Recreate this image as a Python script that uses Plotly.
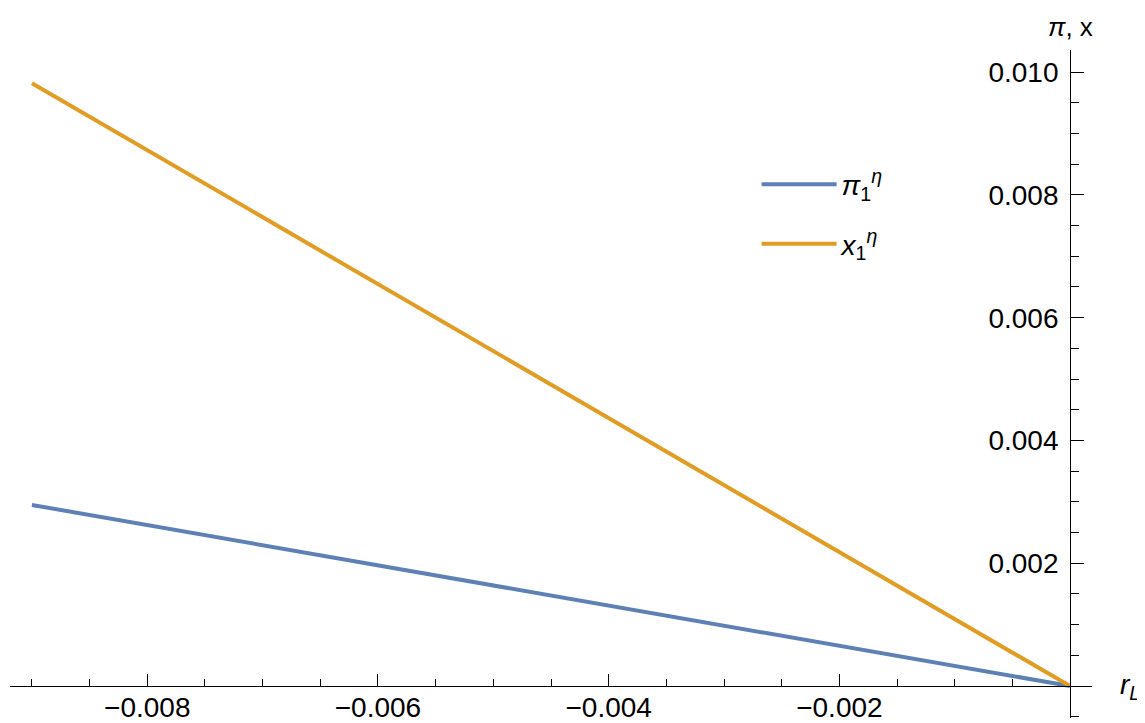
import plotly.graph_objects as go

# Data
r_L = [-0.009, 0.0]
pi_1 = [0.00295, 0.0]
x_1 = [0.00982, 0.0]

x_ticks = [-0.008, -0.006, -0.004, -0.002]
y_ticks = [0.002, 0.004, 0.006, 0.008, 0.010]

BLUE = "#5E81B5"
ORANGE = "#E19C24"
FONT = "Liberation Sans, Arial, sans-serif"

xr = [-0.00919, 0.00019]
yr = [-0.00052, 0.01036]

fig = go.Figure()
fig.add_trace(go.Scatter(x=r_L, y=pi_1, mode="lines", line=dict(color=BLUE, width=4),
                         name="<i>π</i><sub>1</sub><sup><i>η</i></sup>", legendgroup="a"))
fig.add_trace(go.Scatter(x=r_L, y=x_1, mode="lines", line=dict(color=ORANGE, width=4),
                         name="<i>x</i><sub>1</sub><sup><i>η</i></sup>", legendgroup="b"))

xpos = (0 - xr[0]) / (xr[1] - xr[0])
ypos = (0 - yr[0]) / (yr[1] - yr[0])

fig.update_layout(
    width=1145, height=723,
    margin=dict(l=2, r=61, t=42, b=13, autoexpand=False),
    paper_bgcolor="white", plot_bgcolor="white",
    font=dict(family=FONT, size=28, color="black"),
    showlegend=True,
    legend=dict(x=0.69, y=0.836, xanchor="left", yanchor="top",
                bgcolor="rgba(0,0,0,0)", tracegroupgap=20, itemwidth=75,
                traceorder="grouped", font=dict(size=28)),
    xaxis=dict(range=xr, anchor="free", position=ypos, showgrid=False, zeroline=False,
               automargin=False,
               showline=True, linecolor="black", linewidth=1,
               tickmode="array", tickvals=x_ticks, ticktext=["−0.008", "−0.006", "−0.004", "−0.002"],
               ticks="inside", ticklen=12, tickcolor="black", tickwidth=1,
               ticklabelstandoff=-4,
               minor=dict(dtick=0.0005, tick0=0, ticks="inside", ticklen=7,
                          tickcolor="black", tickwidth=1, showgrid=False)),
    yaxis=dict(range=yr, anchor="free", position=xpos, side="left", showgrid=False, zeroline=False,
               automargin=False,
               showline=True, linecolor="black", linewidth=1,
               tickmode="array", tickvals=y_ticks, ticktext=["0.002", "0.004", "0.006", "0.008", "0.010"],
               ticks="inside", ticklen=13, tickcolor="black", tickwidth=1,
               ticklabelstandoff=6,
               minor=dict(dtick=0.0005, tick0=0, ticks="inside", ticklen=8,
                          tickcolor="black", tickwidth=1, showgrid=False)),
    annotations=[
        dict(text="<i>π</i>, x", x=0, xref="x", y=1.0, yref="paper", yanchor="bottom",
             xanchor="center", yshift=6, showarrow=False, font=dict(size=26)),
        dict(text="<i>r</i><sub><i>L</i></sub>", x=1.0, xref="paper", y=0, yref="y",
             xanchor="left", yanchor="middle", xshift=26, showarrow=False, font=dict(size=28)),
    ],
)

fig.write_html("out.html")
